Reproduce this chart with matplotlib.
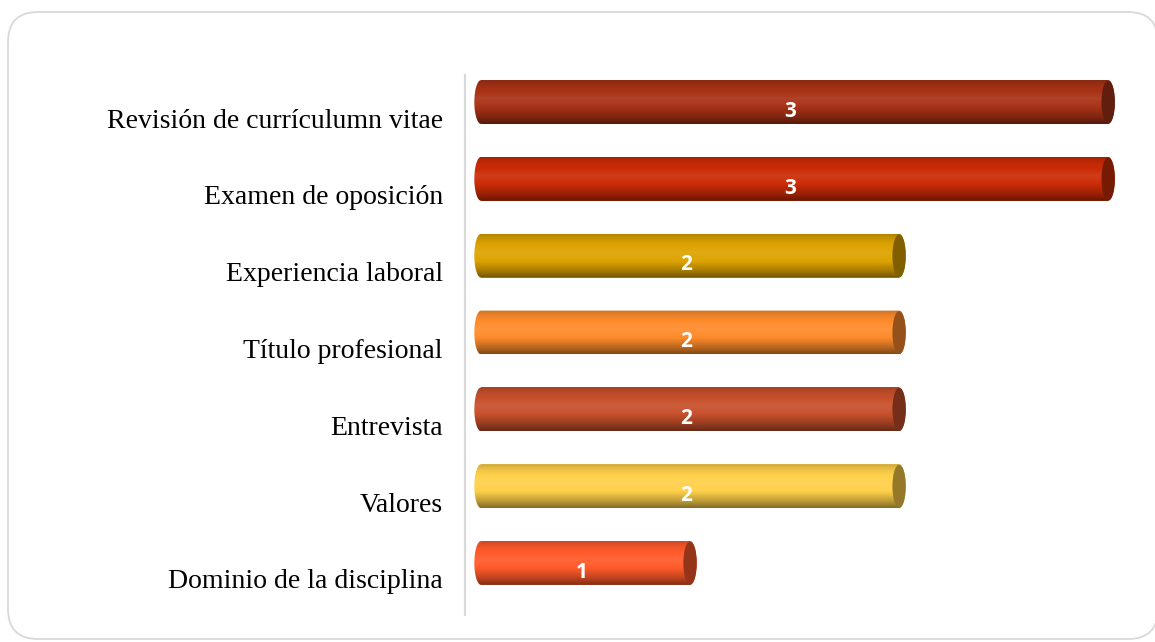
import numpy as np
import matplotlib
matplotlib.use("Agg")
import matplotlib.pyplot as plt
from matplotlib.colors import to_rgb
from matplotlib.patches import Polygon, Ellipse, FancyBboxPatch
from matplotlib.transforms import ScaledTranslation

# datos del grafico (de arriba hacia abajo)
categorias = [
    "Revisión de currículumn vitae",
    "Examen de oposición",
    "Experiencia laboral",
    "Título profesional",
    "Entrevista",
    "Valores",
    "Dominio de la disciplina",
]
valores = [3, 3, 2, 2, 2, 2, 1]
colores = ["#A83216", "#CC2C06", "#DDA300", "#FF8C2C", "#C8502C", "#FFD04A", "#FF5A2A"]

fig = plt.figure(figsize=(11.55, 6.42), dpi=100)

# marco redondeado de fondo
marco = FancyBboxPatch((0.08, 0.03), 11.50, 6.27,
                       boxstyle="round,pad=0,rounding_size=0.3",
                       transform=fig.dpi_scale_trans, facecolor="white",
                       edgecolor="#D9D9D9", linewidth=1.3, zorder=-10)
fig.patches.append(marco)

ax = fig.add_axes([465 / 1155, 27 / 642, 685 / 1155, 540 / 642])
ax.set_facecolor("none")

y_pos = np.arange(len(categorias))
alto = 0.57
rx = 0.032  # radio horizontal de las tapas del cilindro


def perfil(base, n=60):
    # perfil vertical de brillo: borde superior, brillo, sombra inferior
    t = np.linspace(0, 1, n)
    pts_t = [0.0, 0.06, 0.15, 0.42, 0.62, 0.85, 1.0]
    pts_m = [0.80, 0.88, 0.95, 1.08, 1.00, 0.74, 0.52]
    m = np.interp(t, pts_t, pts_m)
    base = np.array(base)
    out = np.empty((n, 1, 3))
    for i, k in enumerate(m):
        if k >= 1:
            out[i, 0] = base + (1 - base) * (k - 1)
        else:
            out[i, 0] = base * k
    return out


barras = ax.barh(y_pos, valores, height=alto, color=colores, edgecolor="none")

ang_izq = np.linspace(np.pi / 2, 3 * np.pi / 2, 40)
ang_der = np.linspace(-np.pi / 2, np.pi / 2, 40)
for barra, color, v in zip(barras, colores, valores):
    x0 = barra.get_x()
    w = barra.get_width()
    yc = barra.get_y() + barra.get_height() / 2
    h = barra.get_height()
    base = to_rgb(color)

    izq = np.column_stack([x0 + rx * np.cos(ang_izq), yc - h / 2 * np.sin(ang_izq)])
    der = np.column_stack([x0 + w + rx * np.cos(ang_der), yc - h / 2 * np.sin(ang_der)])
    contorno = Polygon(np.vstack([izq, der]), closed=True, facecolor="none",
                       edgecolor="none")
    ax.add_patch(contorno)

    img = ax.imshow(perfil(base), extent=(x0 - rx, x0 + w + rx, yc + h / 2, yc - h / 2),
                    origin="upper", aspect="auto", interpolation="bilinear", zorder=2)
    img.set_clip_path(contorno)

    # tapa derecha mas oscura
    tapa = Ellipse((x0 + w, yc), 2 * rx, h * 0.98,
                   facecolor=tuple(c * 0.58 for c in base), edgecolor="none", zorder=3)
    ax.add_patch(tapa)

    ax.text(w / 2 - 0.02, yc + 0.12, str(v), ha="center", va="center",
            color="white", fontsize=15, fontweight="bold", family="Open Sans", zorder=4)

ax.set_xlim(-0.0766, 3.2)
ax.set_ylim(6.677, -0.352)

ax.set_yticks(y_pos)
ax.set_yticklabels(categorias, fontsize=20, family="Liberation Serif", color="black")
ax.tick_params(axis="y", length=0, pad=16)
desplaza = ScaledTranslation(0, -0.16, fig.dpi_scale_trans)
for lab in ax.get_yticklabels():
    lab.set_transform(lab.get_transform() + desplaza)

ax.set_xticks([])
for lado in ["top", "right", "bottom"]:
    ax.spines[lado].set_visible(False)
ax.spines["left"].set_color("#D9D9D9")
ax.spines["left"].set_linewidth(1.6)

fig.savefig("out.png", dpi=100)
